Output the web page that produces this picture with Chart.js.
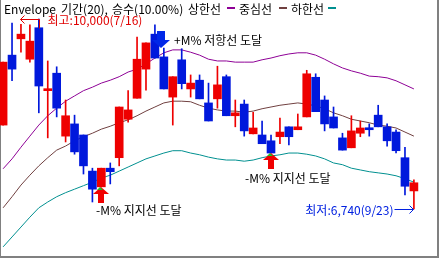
<!DOCTYPE html>
<html>
<head>
<meta charset="utf-8">
<script src="https://cdn.jsdelivr.net/npm/chart.js@4/dist/chart.umd.min.js"></script>
<style>
    html, body { margin: 0; padding: 0; background: #fff; }
    #wrap { width: 439px; height: 258px; position: relative; }
</style>
</head>
<body>
<div id="wrap"><canvas id="chart"></canvas></div>
<script>
// daily candles (won)
const opens  = [8180, 9380, 9660, 9310, 9850, 8770, 9070, 7990, 8200, 8010, 7390, 7120, 7440, 7620, 8280, 8640, 9140, 9740, 9350, 8660, 9300, 8800, 8950, 8560, 8630, 9010, 8340, 8540, 8030, 8010, 7910, 7980, 8150, 8100, 8320, 9000, 8610, 8320, 7960, 7790, 8040, 8130, 8350, 8150, 8060, 7620, 7050];
const highs  = [9260, 9930, 9910, 9900, 10000, 9280, 9180, 8610, 8350, 8010, 7440, 7440, 7530, 8490, 8770, 9690, 9590, 9900, 9500, 9010, 9490, 9040, 9040, 8900, 9190, 9040, 8610, 8610, 8400, 8250, 8010, 8300, 8150, 8370, 9120, 9060, 8680, 8490, 8040, 8340, 8250, 8200, 8520, 8200, 8100, 7800, 7240];
const lows   = [8180, 8940, 9430, 9260, 8390, 7960, 8320, 7890, 7680, 7340, 6860, 7120, 7170, 7480, 8230, 8640, 8780, 9330, 8800, 8180, 8800, 8660, 8630, 8250, 8470, 8340, 8150, 7990, 8030, 7860, 7700, 7860, 7840, 8100, 8320, 8410, 8080, 8130, 7750, 7790, 7980, 7990, 8150, 7820, 7700, 6980, 6740];
const closes = [9260, 9140, 9740, 9620, 8850, 8800, 8470, 8340, 7720, 7480, 7080, 7440, 7380, 8490, 8440, 9310, 9590, 9330, 8800, 9010, 8890, 8900, 8630, 8250, 8870, 8340, 8390, 8080, 8130, 7860, 7700, 8060, 7980, 8150, 9060, 8410, 8200, 8130, 7750, 8080, 8130, 8100, 8150, 7910, 7740, 7130, 7190];

// envelope (20, 10%)
const upperBand  = [7430, 7600, 7800, 7990, 8180, 8340, 8470, 8590, 8680, 8770, 8830, 8900, 8950, 9010, 9090, 9140, 9230, 9330, 9420, 9470, 9470, 9430, 9380, 9310, 9280, 9280, 9260, 9260, 9260, 9300, 9330, 9370, 9400, 9420, 9420, 9380, 9310, 9230, 9160, 9110, 9070, 9020, 9010, 8990, 8940, 8870, 8800];
const middleBand = [6760, 6950, 7150, 7320, 7480, 7620, 7750, 7820, 7910, 7980, 8040, 8110, 8160, 8220, 8270, 8340, 8420, 8490, 8560, 8590, 8590, 8580, 8520, 8470, 8440, 8420, 8420, 8400, 8420, 8460, 8490, 8520, 8540, 8560, 8540, 8510, 8460, 8390, 8340, 8280, 8250, 8220, 8180, 8160, 8130, 8060, 7990];
const lowerBand  = [6090, 6260, 6430, 6600, 6760, 6860, 6950, 7020, 7080, 7140, 7200, 7270, 7320, 7390, 7460, 7530, 7600, 7650, 7700, 7740, 7740, 7700, 7670, 7630, 7600, 7580, 7580, 7560, 7580, 7620, 7650, 7670, 7700, 7700, 7680, 7650, 7600, 7530, 7500, 7440, 7410, 7380, 7360, 7340, 7310, 7260, 7200];

// signals: candle index where the band was touched
const resistHits = [18];
const supportHits = [11, 30];
const highDate = '7/16';
const lowDate = '9/23';

const UP = '#ee0000';
const DOWN = '#0018dc';
const FONT = '12px "Noto Sans CJK KR", "Noto Sans", sans-serif';

const candleColors = opens.map((o, i) => closes[i] >= o ? UP : DOWN);
const idx = opens.map((_, i) => i);

const htsPlugin = {
    id: 'hts',
    beforeDatasetsDraw(chart) {
        const { ctx, width, height } = chart;
        ctx.save();
        ctx.fillStyle = '#808080';
        ctx.fillRect(0, 0, 1, height);
        ctx.fillRect(width - 2, 0, 2, height);
        ctx.fillRect(0, height - 2, width, 2);
        ctx.restore();
    },
    afterDatasetsDraw(chart) {
        const ctx = chart.ctx;
        const xs = chart.scales.x;
        const ys = chart.scales.y;
        const px = (v) => Math.round(xs.getPixelForValue(v));
        const py = (v) => Math.round(ys.getPixelForValue(v));

        ctx.save();
        ctx.font = FONT;
        ctx.textBaseline = 'alphabetic';
        ctx.lineWidth = 1;

        // 1. title + legend (word by word, the HTS font is wider)
        ctx.fillStyle = '#000';
        ctx.textAlign = 'left';
        [['Envelope', 4], ['기간(20),', 61], ['승수(10.00%)', 112], ['상한선', 188], ['중심선', 239], ['하한선', 291]]
            .forEach(([t, x]) => ctx.fillText(t, x, 14));
        [['#8e0096', 227], ['#704040', 279], ['#009090', 328]].forEach(([c, x]) => {
            ctx.fillStyle = c;
            ctx.fillRect(x, 7, 8, 2);
        });

        // 2. highest
        const hi = Math.max(...highs);
        const hiIdx = highs.indexOf(hi);
        const hx = px(hiIdx) + 0.5, hy = py(hi) + 0.5;
        ctx.strokeStyle = '#e00000';
        ctx.fillStyle = '#e00000';
        ctx.beginPath();
        ctx.moveTo(hx, hy + 9); ctx.lineTo(hx, hy); ctx.lineTo(hx - 19, hy);
        ctx.moveTo(hx - 15, hy - 4); ctx.lineTo(hx - 19, hy); ctx.lineTo(hx - 15, hy + 4);
        ctx.stroke();
        ctx.fillText(`최고:${hi.toLocaleString('en-US')}(${highDate})`, hx + 8, hy + 5);

        // 3. lowest
        const lo = Math.min(...lows);
        const loIdx = lows.indexOf(lo);
        const lx = px(loIdx) + 0.5, ly = py(lo) + 0.5;
        ctx.strokeStyle = '#0020e0';
        ctx.fillStyle = '#0020e0';
        ctx.beginPath();
        ctx.moveTo(lx - 20, ly); ctx.lineTo(lx - 1, ly);
        ctx.moveTo(lx - 5, ly - 4); ctx.lineTo(lx - 1, ly); ctx.lineTo(lx - 5, ly + 4);
        ctx.stroke();
        ctx.textAlign = 'right';
        ctx.fillText(`최저:${lo.toLocaleString('en-US')}(${lowDate})`, lx - 21, ly + 5);

        // 4. +M% resistance
        resistHits.forEach(i => {
            const cx = px(i) - 3, ty = py(highs[i]);
            ctx.fillStyle = '#0028e8';
            ctx.fillRect(cx - 4, ty - 17, 8, 9);
            ctx.beginPath();
            ctx.moveTo(cx - 9, ty - 8); ctx.lineTo(cx + 9, ty - 8); ctx.lineTo(cx, ty);
            ctx.closePath();
            ctx.fill();
            ctx.fillStyle = '#000';
            ctx.textAlign = 'left';
            ctx.fillText('+M% 저항선 도달', cx + 13, ty - 3);
        });

        // 5. -M% support
        const textShift = [-5, -26];
        const textDrop = [28, 30];
        supportHits.forEach((i, n) => {
            const cx = px(i), ay = py(lows[i]);
            ctx.fillStyle = '#f00000';
            ctx.beginPath();
            ctx.moveTo(cx, ay); ctx.lineTo(cx + 8, ay + 7); ctx.lineTo(cx - 8, ay + 7);
            ctx.closePath();
            ctx.fill();
            ctx.fillRect(cx - 3, ay + 7, 6, 9);
            ctx.fillStyle = '#20c020';
            ctx.beginPath();
            ctx.moveTo(cx - 1, ay); ctx.lineTo(cx + 2, ay + 3); ctx.lineTo(cx - 4, ay + 3);
            ctx.closePath();
            ctx.fill();
            ctx.fillStyle = '#000';
            ctx.textAlign = 'left';
            ctx.fillText('-M% 지지선 도달', cx + textShift[n], ay + textDrop[n]);
        });
        ctx.restore();
    }
};

const lineStyle = { borderWidth: 1, pointRadius: 0, tension: 0, fill: false, order: 2 };

new Chart(document.getElementById('chart'), {
    type: 'bar',
    plugins: [htsPlugin],
    data: {
        datasets: [
            {
                label: 'body',
                data: idx.map(i => ({ x: i, y: [opens[i], closes[i]] })),
                backgroundColor: candleColors,
                barThickness: 8,
                minBarLength: 2,
                grouped: false,
                order: 0
            },
            {
                label: 'wick',
                data: idx.map(i => ({ x: i, y: [lows[i], highs[i]] })),
                backgroundColor: candleColors,
                barThickness: 1,
                grouped: false,
                order: 1
            },
            { type: 'line', label: '상한선', data: idx.map(i => ({ x: i, y: upperBand[i] })), borderColor: '#8e0096', ...lineStyle },
            { type: 'line', label: '중심선', data: idx.map(i => ({ x: i, y: middleBand[i] })), borderColor: '#704040', ...lineStyle },
            { type: 'line', label: '하한선', data: idx.map(i => ({ x: i, y: lowerBand[i] })), borderColor: '#009090', ...lineStyle }
        ]
    },
    options: {
        responsive: true,
        maintainAspectRatio: false,
        animation: false,
        layout: { padding: 0 },
        plugins: { legend: { display: false }, tooltip: { enabled: false } },
        scales: {
            x: { type: 'linear', offset: false, min: -0.347, max: 48.81, display: false },
            y: { min: 5899, max: 10326, display: false }
        }
    }
});
</script>
</body>
</html>
